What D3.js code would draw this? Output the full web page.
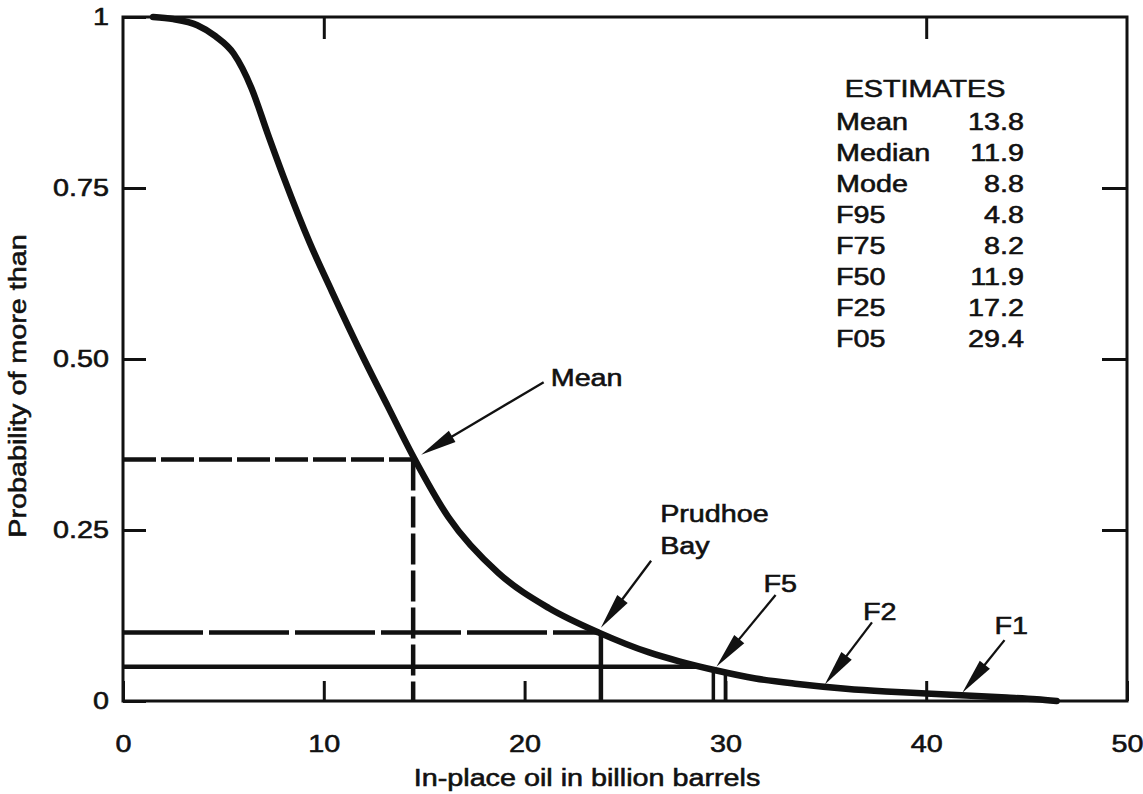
<!DOCTYPE html>
<html>
<head>
<meta charset="utf-8">
<script src="https://cdn.jsdelivr.net/npm/d3@7"></script>
<style>
  body { margin: 0; background: #fff; }
  svg text { font-family: "Liberation Sans", Arial, Helvetica, sans-serif; fill: #111; stroke: #111; stroke-width: 0.55px; }
</style>
</head>
<body>
<svg id="chart" width="1143" height="794"></svg>
<script>
// Exceedance curve: probability that in-place oil exceeds a given volume
const curveX = [1.5, 2.5, 3.7, 4.6, 5.5, 6.4, 7.2, 8.0, 9.3, 10.4, 12.0, 13.2, 14.5, 16.2, 18.7, 21.2, 23.7, 26.2, 27.7, 29.5, 31.5, 33.6, 36, 38, 40, 42, 44, 45.5, 46.5];
const curveP = [1.0, 0.997, 0.988, 0.972, 0.947, 0.896, 0.830, 0.766, 0.670, 0.599, 0.500, 0.430, 0.355, 0.269, 0.187, 0.136, 0.100, 0.071, 0.058, 0.045, 0.033, 0.025, 0.018, 0.014, 0.011, 0.008, 0.005, 0.0025, 0.0];

// Axis ticks
const xTickValues = [0, 10, 20, 30, 40, 50];
const xTickLabels = ["0", "10", "20", "30", "40", "50"];
const xTopTicks = [10, 40];
const yTickValues = [0, 0.25, 0.5, 0.75, 1];
const yTickLabels = ["0", "0.25", "0.50", "0.75", "1"];
const yRightTicks = [0.25, 0.5, 0.75];

// Summary table
const estimateNames = ["Mean", "Median", "Mode", "F95", "F75", "F50", "F25", "F05"];
const estimateValues = ["13.8", "11.9", "8.8", "4.8", "8.2", "11.9", "17.2", "29.4"];

// Reference lines (x in billion barrels, p probability)
const meanLine = { x: 14.45, p: 0.353 };
const prudhoeLine = { x: 23.8, p: 0.1 };
const f5Level = 0.05;
const f5Verticals = [29.4, 30.0];

// Labelled arrows: text anchor, tail and tip in data units
const annotations = [
  { lines: ["Mean"], tx: 21.3, tp: 0.46, from: [20.95, 0.466], to: [14.85, 0.36] },
  { lines: ["Prudhoe", "Bay"], tx: 26.75, tp: 0.262, from: [26.3, 0.205], to: [23.8, 0.107] },
  { lines: ["F5"], tx: 31.9, tp: 0.159, from: [32.5, 0.155], to: [29.55, 0.05] },
  { lines: ["F2"], tx: 36.85, tp: 0.118, from: [37.3, 0.115], to: [34.95, 0.024] },
  { lines: ["F1"], tx: 43.4, tp: 0.098, from: [43.9, 0.089], to: [41.8, 0.012] }
];

const SX = 1.25;     // horizontal stretch of the lettering
const FS = 23;       // font size

const svg = d3.select("#chart");
const x = d3.scaleLinear().domain([0, 50]).range([123, 1127]);
const y = d3.scaleLinear().domain([0, 1]).range([701, 17]);

// value of the curve at a given x (linear between points)
function curveAt(v) {
  const i = d3.bisectRight(curveX, v);
  if (i <= 0) return curveP[0];
  if (i >= curveX.length) return curveP[curveP.length - 1];
  const t = (v - curveX[i - 1]) / (curveX[i] - curveX[i - 1]);
  return curveP[i - 1] + t * (curveP[i] - curveP[i - 1]);
}
// x where the curve falls to a given probability
function curveCross(p) {
  for (let i = 1; i < curveP.length; i++) {
    if (curveP[i] <= p) {
      const t = (curveP[i - 1] - p) / (curveP[i - 1] - curveP[i]);
      return curveX[i - 1] + t * (curveX[i] - curveX[i - 1]);
    }
  }
  return curveX[curveX.length - 1];
}

function stretch(sel) {
  sel.each(function () {
    const t = d3.select(this);
    const xv = +(t.attr("x") || 0);
    t.attr("x", xv / SX).attr("transform", `scale(${SX},1)`);
  });
}
function label(g, px, py, txt, anchor) {
  return g.append("text")
    .attr("transform", `translate(${px},${py}) scale(${SX},1)`)
    .attr("text-anchor", anchor || "start")
    .attr("font-size", FS)
    .text(txt);
}

// Frame
svg.append("rect")
  .attr("x", x(0)).attr("y", y(1))
  .attr("width", x(50) - x(0)).attr("height", y(0) - y(1))
  .attr("fill", "none").attr("stroke", "#111").attr("stroke-width", 3);

// Bottom axis with inward ticks
const gx = svg.append("g").attr("transform", `translate(0,${y(0)})`)
  .call(d3.axisBottom(x).tickValues(xTickValues)
    .tickFormat((d, i) => xTickLabels[i]).tickSizeInner(-20).tickSizeOuter(0).tickPadding(35));
gx.select(".domain").remove();
gx.selectAll("line").attr("stroke", "#111").attr("stroke-width", 3);
gx.selectAll("text").attr("font-size", FS).call(stretch);

// Top ticks
const gt = svg.append("g").attr("transform", `translate(0,${y(1)})`)
  .call(d3.axisTop(x).tickValues(xTopTicks).tickFormat("").tickSizeInner(-22).tickSizeOuter(0));
gt.select(".domain").remove();
gt.selectAll("line").attr("stroke", "#111").attr("stroke-width", 3);

// Left axis with inward ticks
const gy = svg.append("g").attr("transform", `translate(${x(0)},0)`)
  .call(d3.axisLeft(y).tickValues(yTickValues)
    .tickFormat((d, i) => yTickLabels[i]).tickSizeInner(-23).tickSizeOuter(0).tickPadding(14));
gy.select(".domain").remove();
gy.selectAll("line").attr("stroke", "#111").attr("stroke-width", 3);
gy.selectAll("text").attr("font-size", FS).call(stretch);

// Right ticks
const gr = svg.append("g").attr("transform", `translate(${x(50)},0)`)
  .call(d3.axisRight(y).tickValues(yRightTicks).tickFormat("").tickSizeInner(-25).tickSizeOuter(0));
gr.select(".domain").remove();
gr.selectAll("line").attr("stroke", "#111").attr("stroke-width", 3);

// Reference lines
const ref = svg.append("g").attr("stroke", "#111").attr("fill", "none");
ref.append("line")  // mean, horizontal
  .attr("x1", x(0)).attr("x2", x(meanLine.x)).attr("y1", y(meanLine.p)).attr("y2", y(meanLine.p))
  .attr("stroke-width", 4.5).attr("stroke-dasharray", "33 5");
ref.append("line")  // mean, vertical
  .attr("x1", x(meanLine.x)).attr("x2", x(meanLine.x)).attr("y1", y(meanLine.p)).attr("y2", y(0))
  .attr("stroke-width", 4.5).attr("stroke-dasharray", "31 6");
ref.append("line")  // Prudhoe Bay, horizontal
  .attr("x1", x(0)).attr("x2", x(prudhoeLine.x)).attr("y1", y(prudhoeLine.p)).attr("y2", y(prudhoeLine.p))
  .attr("stroke-width", 4.5).attr("stroke-dasharray", "80 6");
ref.append("line")  // Prudhoe Bay, vertical
  .attr("x1", x(prudhoeLine.x)).attr("x2", x(prudhoeLine.x)).attr("y1", y(prudhoeLine.p)).attr("y2", y(0))
  .attr("stroke-width", 4.5);
ref.append("line")  // 5 percent level
  .attr("x1", x(0)).attr("x2", x(curveCross(f5Level))).attr("y1", y(f5Level)).attr("y2", y(f5Level))
  .attr("stroke-width", 4.5);
ref.selectAll(".f5v").data(f5Verticals).join("line")
  .attr("x1", d => x(d)).attr("x2", d => x(d))
  .attr("y1", d => y(curveAt(d))).attr("y2", y(0))
  .attr("stroke-width", 3.5);

// Exceedance curve
const line = d3.line().x(d => x(d[0])).y(d => y(d[1])).curve(d3.curveMonotoneX);
svg.append("path")
  .datum(curveX.map((v, i) => [v, curveP[i]]))
  .attr("d", line)
  .attr("fill", "none").attr("stroke", "#111").attr("stroke-width", 6.5)
  .attr("stroke-linecap", "round").attr("stroke-linejoin", "round");

// Arrows with labels
const ann = svg.append("g");
const HEAD_LEN = 36, HEAD_W = 6.5;
annotations.forEach(a => {
  const x0 = x(a.from[0]), y0 = y(a.from[1]);
  const x1 = x(a.to[0]), y1 = y(a.to[1]);
  const dx = x1 - x0, dy = y1 - y0, len = Math.hypot(dx, dy);
  const ux = dx / len, uy = dy / len;
  const bx = x1 - ux * HEAD_LEN, by = y1 - uy * HEAD_LEN;
  ann.append("line").attr("x1", x0).attr("y1", y0).attr("x2", bx + ux * 4).attr("y2", by + uy * 4)
    .attr("stroke", "#111").attr("stroke-width", 2.3);
  ann.append("path")
    .attr("d", `M${x1},${y1}L${bx - uy * HEAD_W},${by + ux * HEAD_W}L${bx + uy * HEAD_W},${by - ux * HEAD_W}Z`)
    .attr("fill", "#111");
  a.lines.forEach((t, k) => label(ann, x(a.tx), y(a.tp) + k * 32, t));
});

// Estimates table
const tab = svg.append("g");
label(tab, 925, 97, "ESTIMATES", "middle");
estimateNames.forEach((n, i) => {
  label(tab, 836, 130 + i * 31, n, "start");
  label(tab, 1024, 130 + i * 31, estimateValues[i], "end");
});

// Axis titles
label(svg, 587, 786, "In-place oil in billion barrels", "middle");
svg.append("text")
  .attr("transform", `translate(26,386) rotate(-90) scale(${SX},1)`)
  .attr("text-anchor", "middle").attr("font-size", FS)
  .text("Probability of more than");
</script>
</body>
</html>
